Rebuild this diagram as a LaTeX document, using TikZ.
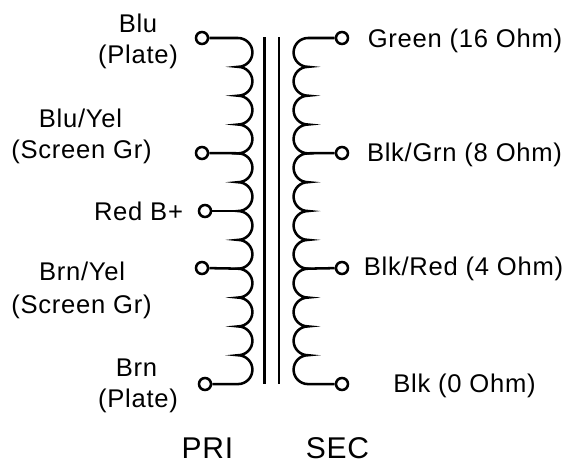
\documentclass[tikz,border=0pt]{standalone}
\usepackage{fontspec}
\setmainfont{Liberation Sans}[LetterSpace=2.8]
\begin{document}
\begin{tikzpicture}[x=0.75pt,y=0.75pt,line width=1.9pt]
\tikzset{
  term/.style={circle,draw,line width=1.9pt,minimum size=9pt,inner sep=0pt},
  lbl/.style={inner sep=0pt,font=\fontsize{19.2}{19.2}\selectfont,anchor=base},
  big/.style={inner sep=0pt,font=\fontsize{22.5}{22.5}\selectfont,anchor=base}
}
\useasboundingbox (0,-461) rectangle (568,0);
% terminals
\node [term] (p1) at (202,-38) {};
\node [term] (p2) at (202,-153) {};
\node [term] (p3) at (205,-211) {};
\node [term] (p4) at (202,-268) {};
\node [term] (p5) at (205,-384) {};
\node [term] (s1) at (342,-38) {};
\node [term] (s2) at (342,-153) {};
\node [term] (s3) at (342,-268) {};
\node [term] (s4) at (342,-384) {};
% core
\coordinate (c1t) at (264.5,-37);
\coordinate (c1b) at (264.5,-384);
\coordinate (c2t) at (279,-37);
\coordinate (c2b) at (279,-384);
\draw (c1t) -- (c1b);
\draw (c2t) -- (c2b);
% windings
\coordinate (pa) at (238,-38);
\coordinate (sa) at (308,-38);
\draw (p1) -- (pa) \foreach \i in {1,...,12} { arc (90:-90:14.42) } -- (p5);
\draw (s1) -- (sa) \foreach \i in {1,...,12} { arc (90:270:14.42) } -- (s4);
% taps
\coordinate (p2c) at (241,-153.3);
\coordinate (p3c) at (241,-211);
\coordinate (p4c) at (241,-268.7);
\coordinate (s2c) at (305,-153.3);
\coordinate (s3c) at (305,-268.7);
\draw (p2) -- (p2c);
\draw (p3) -- (p3c);
\draw (p4) -- (p4c);
\draw (s2) -- (s2c);
\draw (s3) -- (s3c);
% labels
\node [lbl] (l1a) at (138,-32) {Blu};
\node [lbl] (l1b) at (138,-63) {(Plate)};
\node [lbl] (l2a) at (80.5,-127) {Blu/Yel};
\node [lbl] (l2b) at (81.5,-158) {(Screen Gr)};
\node [lbl] (l3) at (138.5,-220) {Red B+};
\node [lbl] (l4a) at (82,-280) {Brn/Yel};
\node [lbl] (l4b) at (81.5,-313) {(Screen Gr)};
\node [lbl] (l5a) at (136.5,-376) {Brn};
\node [lbl] (l5b) at (138,-407) {(Plate)};
\node [lbl] (r1) at (465,-47) {Green (16 Ohm)};
\node [lbl] (r2) at (464.5,-161) {Blk/Grn (8 Ohm)};
\node [lbl] (r3) at (463.5,-275) {Blk/Red (4 Ohm)};
\node [lbl] (r4) at (464.5,-392) {Blk (0 Ohm)};
\node [big] (pri) at (207.5,-458.5) {PRI};
\node [big] (sec) at (337.5,-458.5) {SEC};
\end{tikzpicture}
\end{document}
